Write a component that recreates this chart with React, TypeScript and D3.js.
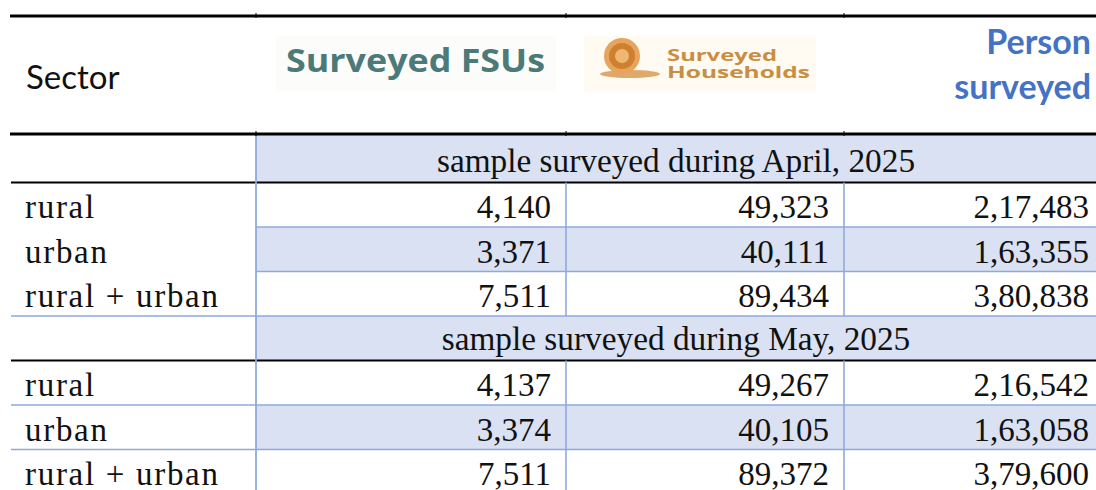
import React from "react";
import * as d3 from "d3";

// ---- data ----
const sectors = ["rural", "urban", "rural + urban"];
const periods = ["sample surveyed during April, 2025", "sample surveyed during May, 2025"];
const aprilFSUs = [4140, 3371, 7511];
const aprilHouseholds = [49323, 40111, 89434];
const aprilPersons = [217483, 163355, 380838];
const mayFSUs = [4137, 3374, 7511];
const mayHouseholds = [49267, 40105, 89372];
const mayPersons = [216542, 163058, 379600];
const headerSector = "Sector";
const headerFSU = "Surveyed FSUs";
const headerHH = ["Surveyed", "Households"];
const headerPerson = ["Person", "surveyed"];

// Indian digit grouping: 2,17,483
function fmtIN(n: number): string {
  const s = String(Math.round(n));
  if (s.length <= 3) return s;
  const last3 = s.slice(-3);
  let rest = s.slice(0, -3);
  const groups: string[] = [];
  while (rest.length > 2) {
    groups.unshift(rest.slice(-2));
    rest = rest.slice(0, -2);
  }
  if (rest) groups.unshift(rest);
  return groups.join(",") + "," + last3;
}

type Row =
  | { kind: "period"; label: string; section: number }
  | { kind: "data"; label: string; values: number[]; section: number; pos: number };

const sectionData = [
  [aprilFSUs, aprilHouseholds, aprilPersons],
  [mayFSUs, mayHouseholds, mayPersons],
];

const rows: Row[] = [];
periods.forEach((p, si) => {
  rows.push({ kind: "period", label: p, section: si });
  sectors.forEach((s, i) => {
    rows.push({
      kind: "data",
      label: s,
      values: sectionData[si].map((col) => col[i]),
      section: si,
      pos: i,
    });
  });
});

const W = 1096;
const H = 490;
const SERIF = "'Liberation Serif', 'Times New Roman', serif";
const SANS = "Lato, 'Open Sans', sans-serif";
const BLUE_LINE = "#8EAADB";
const BLUE_FILL = "#D9E1F2";

export default function App() {
  const left = 10;
  const colEdges = [left, 256, 566, 844, W];
  const y = d3
    .scaleBand<number>()
    .domain(d3.range(rows.length))
    .range([138, 494])
    .paddingInner(0)
    .paddingOuter(0);
  const headTop = 16;
  const headBottom = 134;

  const x0 = colEdges[1];
  const numRight = [colEdges[2] - 15, colEdges[3] - 15, colEdges[4] - 7];

  const fills: JSX.Element[] = [];
  const lines: JSX.Element[] = [];
  const texts: JSX.Element[] = [];

  rows.forEach((r, i) => {
    const top = i === 0 ? headBottom : (y(i) as number);
    const bottom = (y(i) as number) + y.bandwidth();
    if (r.kind === "period") {
      fills.push(
        <rect key={"pf" + i} x={x0} y={top} width={W - x0} height={bottom - top} fill={BLUE_FILL} />
      );
      texts.push(
        <text
          key={"pt" + i}
          x={(x0 + W) / 2}
          y={bottom - 11}
          textAnchor="middle"
          fontFamily={SERIF}
          fontSize={33.3}
          fill="#111"
        >
          {r.label}
        </text>
      );
      lines.push(
        <line key={"pl" + i} x1={left + 1} x2={W} y1={bottom} y2={bottom} stroke="#000" strokeWidth={2.2} />
      );
    } else {
      if (r.pos === 1) {
        fills.push(
          <rect key={"df" + i} x={x0} y={top} width={W - x0} height={bottom - top} fill={BLUE_FILL} />
        );
      }
      texts.push(
        <text
          key={"dl" + i}
          x={25}
          y={bottom - 9}
          fontFamily={SERIF}
          fontSize={33}
          letterSpacing={1.7}
          fill="#111"
        >
          {r.label}
        </text>
      );
      r.values.forEach((v, c) => {
        texts.push(
          <text
            key={"dv" + i + "_" + c}
            x={numRight[c]}
            y={bottom - 9}
            textAnchor="end"
            fontFamily={SERIF}
            fontSize={33}
            fill="#111"
          >
            {fmtIN(v)}
          </text>
        );
      });
      if (i < rows.length - 1) {
        const fullWidth = r.section === 1 || r.pos === 2;
        lines.push(
          <line
            key={"rl" + i}
            x1={fullWidth ? left + 1 : x0}
            x2={W}
            y1={bottom}
            y2={bottom}
            stroke={BLUE_LINE}
            strokeWidth={1.6}
          />
        );
      }
      [colEdges[2], colEdges[3]].forEach((cx, k) => {
        lines.push(
          <line
            key={"vl" + i + "_" + k}
            x1={cx}
            x2={cx}
            y1={top}
            y2={bottom}
            stroke={BLUE_LINE}
            strokeWidth={1.6}
          />
        );
      });
    }
  });

  lines.push(
    <line key="v0" x1={x0} x2={x0} y1={headBottom} y2={H} stroke={BLUE_LINE} strokeWidth={1.8} />
  );

  const ticks = [colEdges[1], colEdges[2], colEdges[3]].flatMap((cx) => [
    <line key={"tt" + cx} x1={cx} x2={cx} y1={headTop - 3} y2={headTop + 2} stroke="#000" strokeWidth={1} />,
    <line key={"tb" + cx} x1={cx} x2={cx} y1={headBottom - 3} y2={headBottom + 2} stroke="#000" strokeWidth={1} />,
  ]);

  return (
    <svg
      width={W}
      height={H}
      viewBox={`0 0 ${W} ${H}`}
      style={{ position: "absolute", left: 0, top: 0, background: "#fff" }}
    >
      <rect x={0} y={0} width={W} height={H} fill="#fff" />
      {fills}
      {lines}
      <line x1={left} x2={W} y1={headTop} y2={headTop} stroke="#000" strokeWidth={3} />
      <line x1={left} x2={W} y1={headBottom} y2={headBottom} stroke="#000" strokeWidth={3} />
      {ticks}

      {/* header: Sector */}
      <text x={26} y={89} fontFamily={SANS} fontSize={33} fill="#111">
        {headerSector}
      </text>

      {/* header: Surveyed FSUs (logo-like) */}
      <rect x={276} y={36} width={280} height={54} fill="#fcfcfb" />
      <text
        x={286}
        y={72}
        fontFamily="'Open Sans', sans-serif"
        fontWeight={700}
        fontSize={33}
        fill="#4b7a78"
        textLength={259}
        lengthAdjust="spacingAndGlyphs"
      >
        {headerFSU}
      </text>

      {/* header: Surveyed Households logo */}
      <rect x={584} y={36} width={232} height={56} fill="#fffaf2" />
      <ellipse cx={630} cy={74} rx={30} ry={4} fill="#d99a55" opacity={0.85} />
      <circle cx={622} cy={56} r={18} fill="#e6a45c" />
      <circle cx={622} cy={56} r={13} fill="#cf7f30" />
      <circle cx={622} cy={56} r={7} fill="#f0b772" />
      <text
        x={667}
        y={61}
        fontFamily="'Open Sans', sans-serif"
        fontWeight={700}
        fontSize={16.5}
        fill="#c98e42"
        textLength={110}
        lengthAdjust="spacingAndGlyphs"
      >
        {headerHH[0]}
      </text>
      <text
        x={667}
        y={78}
        fontFamily="'Open Sans', sans-serif"
        fontWeight={700}
        fontSize={16.5}
        fill="#c98e42"
        textLength={143}
        lengthAdjust="spacingAndGlyphs"
      >
        {headerHH[1]}
      </text>

      {/* header: Person surveyed */}
      <text x={1091} y={54} textAnchor="end" fontFamily={SANS} fontWeight={700} fontSize={34} fill="#4472C4">
        {headerPerson[0]}
      </text>
      <text x={1091} y={99} textAnchor="end" fontFamily={SANS} fontWeight={700} fontSize={34} fill="#4472C4">
        {headerPerson[1]}
      </text>

      {texts}
    </svg>
  );
}
